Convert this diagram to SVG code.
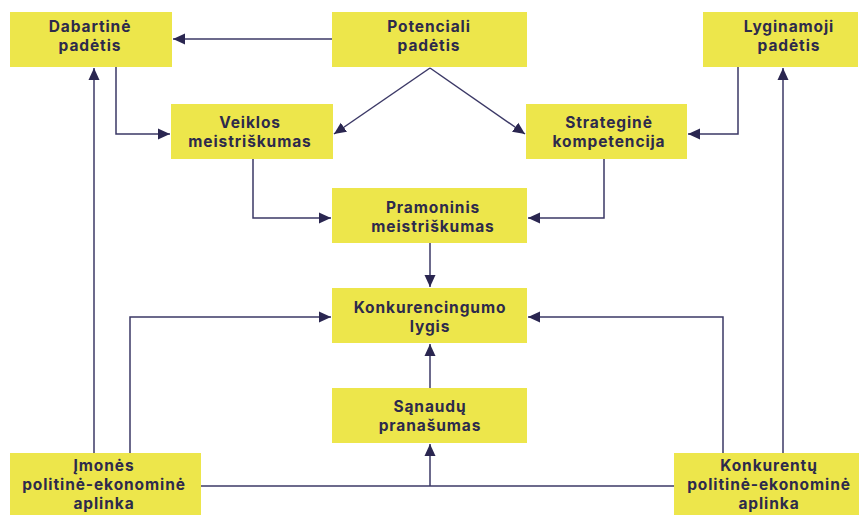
<svg xmlns="http://www.w3.org/2000/svg" width="859" height="515" viewBox="0 0 859 515">
<style>
.box{fill:#ede64b}
.t{font-family:Inter,"Noto Sans","DejaVu Sans",sans-serif;font-weight:700;font-size:15.5px;letter-spacing:0.9px;fill:#2d2a4c;text-anchor:middle}
.c{fill:none;stroke:#3b3866;stroke-width:1.5}
</style>
<defs>
<marker id="a" markerUnits="userSpaceOnUse" markerWidth="12" markerHeight="12" viewBox="0 0 12 12" refX="12" refY="6" orient="auto">
<path d="M0,0.5 L12,6 L0,11.5 z" fill="#2a2650"/>
</marker>
</defs>
<rect width="859" height="515" fill="#ffffff"/>
<g id="connectors">
<path class="c" d="M332,39 H173" marker-end="url(#a)"/>
<path class="c" d="M116,67 V134 H170" marker-end="url(#a)"/>
<path class="c" d="M430,68 L334,134" marker-end="url(#a)"/>
<path class="c" d="M430,68 L525,134" marker-end="url(#a)"/>
<path class="c" d="M253,159 V218 H331" marker-end="url(#a)"/>
<path class="c" d="M604,159 V218 H528" marker-end="url(#a)"/>
<path class="c" d="M738,67 V134 H688" marker-end="url(#a)"/>
<path class="c" d="M430,243 V287" marker-end="url(#a)"/>
<path class="c" d="M430,388 V344" marker-end="url(#a)"/>
<path class="c" d="M94,453 V68" marker-end="url(#a)"/>
<path class="c" d="M130,453 V317 H331" marker-end="url(#a)"/>
<path class="c" d="M723,453 V317 H528" marker-end="url(#a)"/>
<path class="c" d="M783,453 V68" marker-end="url(#a)"/>
<path class="c" d="M201,486 H674"/>
<path class="c" d="M430,486 V444" marker-end="url(#a)"/>
</g>
<g id="n-dabartine"><rect class="box" x="10" y="12" width="162" height="55"/><text class="t" x="90" y="31.5">Dabartinė</text><text class="t" x="90" y="50.5">padėtis</text></g>
<g id="n-potenciali"><rect class="box" x="332" y="12" width="195" height="55"/><text class="t" x="429" y="31.5">Potenciali</text><text class="t" x="429" y="50.5">padėtis</text></g>
<g id="n-lyginamoji"><rect class="box" x="703" y="12" width="155" height="55"/><text class="t" x="789" y="31.5">Lyginamoji</text><text class="t" x="789" y="50.5">padėtis</text></g>
<g id="n-veiklos"><rect class="box" x="171" y="104" width="162" height="55"/><text class="t" x="250" y="127.5">Veiklos</text><text class="t" x="250" y="146.5">meistriškumas</text></g>
<g id="n-strategine"><rect class="box" x="526" y="104" width="161" height="55"/><text class="t" x="609" y="127.5">Strateginė</text><text class="t" x="609" y="146.5">kompetencija</text></g>
<g id="n-pramoninis"><rect class="box" x="332" y="188" width="195" height="55"/><text class="t" x="433" y="212.5">Pramoninis</text><text class="t" x="433" y="231.5">meistriškumas</text></g>
<g id="n-konkurencingumo"><rect class="box" x="332" y="288" width="195" height="55"/><text class="t" x="430" y="312.5">Konkurencingumo</text><text class="t" x="430" y="331.5">lygis</text></g>
<g id="n-sanaudu"><rect class="box" x="332" y="388" width="195" height="55"/><text class="t" x="430" y="411.5">Sąnaudų</text><text class="t" x="430" y="430.5">pranašumas</text></g>
<g id="n-imones"><rect class="box" x="10" y="453" width="191" height="62"/><text class="t" x="104" y="470.5">Įmonės</text><text class="t" x="104" y="489.5">politinė-ekonominė</text><text class="t" x="104" y="508.5">aplinka</text></g>
<g id="n-konkurentu"><rect class="box" x="674" y="453" width="185" height="62"/><text class="t" x="769" y="470.5">Konkurentų</text><text class="t" x="769" y="489.5">politinė-ekonominė</text><text class="t" x="769" y="508.5">aplinka</text></g>
</svg>
